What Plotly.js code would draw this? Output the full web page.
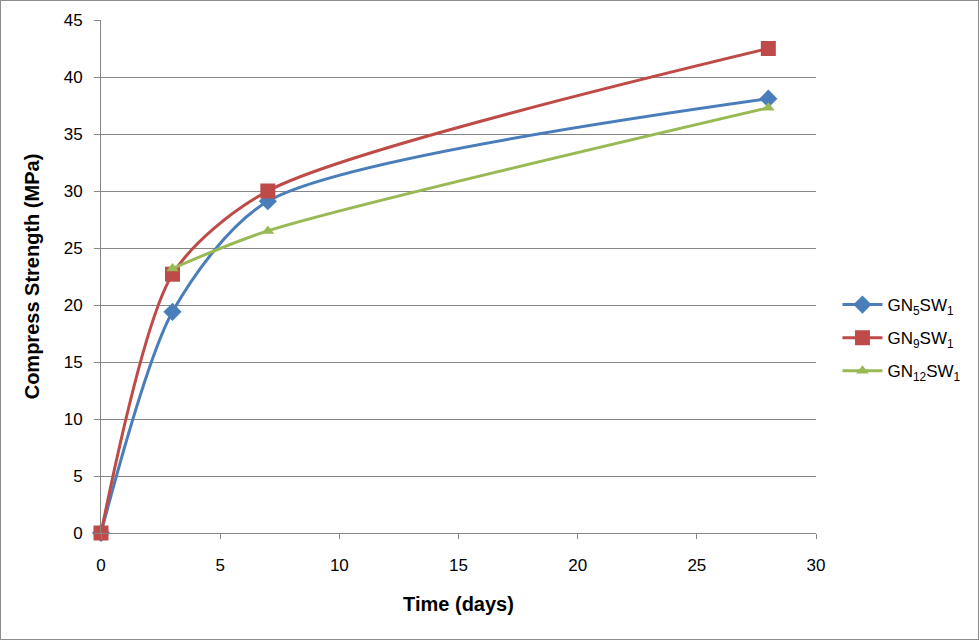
<!DOCTYPE html>
<html><head><meta charset="utf-8">
<script src="https://cdn.plot.ly/plotly-3.0.1.min.js"></script>
<style>html,body{margin:0;padding:0;background:#fff}#chart{width:979px;height:640px;box-sizing:border-box;border:1px solid #8c8c8c}</style>
</head><body><div id="chart"></div>
<script>
const seriesNames = ["GN<sub>5</sub>SW<sub>1</sub>", "GN<sub>9</sub>SW<sub>1</sub>", "GN<sub>12</sub>SW<sub>1</sub>"];
const daysBlue = [0, 3, 7, 28];
const strengthBlue = [0, 19.4, 29.1, 38.1];
const daysRed = [0, 3, 7, 28];
const strengthRed = [0, 22.7, 30.0, 42.5];
const daysGreen = [3, 7, 28];
const strengthGreen = [23.2, 26.5, 37.3];
const xTicks = [0, 5, 10, 15, 20, 25, 30];
const yTicks = [0, 5, 10, 15, 20, 25, 30, 35, 40, 45];

const colors = ["#4A7EBB", "#BE4B48", "#98B954"];
const traces = [
  {x: daysBlue, y: strengthBlue, name: seriesNames[0], legendgroup: "a", mode: "lines+markers",
   line: {color: colors[0], width: 3, shape: "spline", smoothing: 0.75},
   marker: {symbol: "diamond", size: 14, color: colors[0]}, cliponaxis: false},
  {x: daysRed, y: strengthRed, name: seriesNames[1], legendgroup: "b", mode: "lines+markers",
   line: {color: colors[1], width: 3, shape: "spline", smoothing: 0.75},
   marker: {symbol: "square", size: 15, color: colors[1]}, cliponaxis: false},
  {x: daysGreen, y: strengthGreen, name: seriesNames[2], legendgroup: "c", mode: "lines+markers",
   line: {color: colors[2], width: 3, shape: "spline", smoothing: 0.75},
   marker: {symbol: "triangle-up", size: 11, color: colors[2]}, cliponaxis: false}
];
const font = "Liberation Sans, Arial, sans-serif";
const layout = {
  width: 977, height: 638,
  margin: {l: 100, r: 162, t: 19, b: 106},
  paper_bgcolor: "#fff", plot_bgcolor: "#fff",
  font: {family: font, size: 17, color: "#000"},
  showlegend: true,
  legend: {x: 1.03, y: 0.38, xanchor: "left", yanchor: "middle", font: {size: 17}, tracegroupgap: 8, itemwidth: 40},
  xaxis: {range: [0, 30], tickvals: xTicks, showgrid: false, zeroline: false,
    showline: true, linecolor: "#868686", linewidth: 1, ticks: "outside", ticklen: 5, tickcolor: "#868686",
    ticklabelstandoff: 12,
    tickfont: {size: 17}, title: {text: "<b>Time (days)</b>", font: {size: 20}, standoff: 22}},
  yaxis: {range: [0, 45], tickvals: yTicks, showgrid: true, gridcolor: "#868686", gridwidth: 1, zeroline: false,
    showline: true, linecolor: "#868686", linewidth: 1, ticks: "outside", ticklen: 6, tickcolor: "#868686",
    ticklabelstandoff: 8,
    tickfont: {size: 17}, title: {text: "<b>Compress Strength (MPa)</b>", font: {size: 20}, standoff: 18}}
};
Plotly.newPlot("chart", traces, layout, {displayModeBar: false, staticPlot: true});
</script></body></html>
